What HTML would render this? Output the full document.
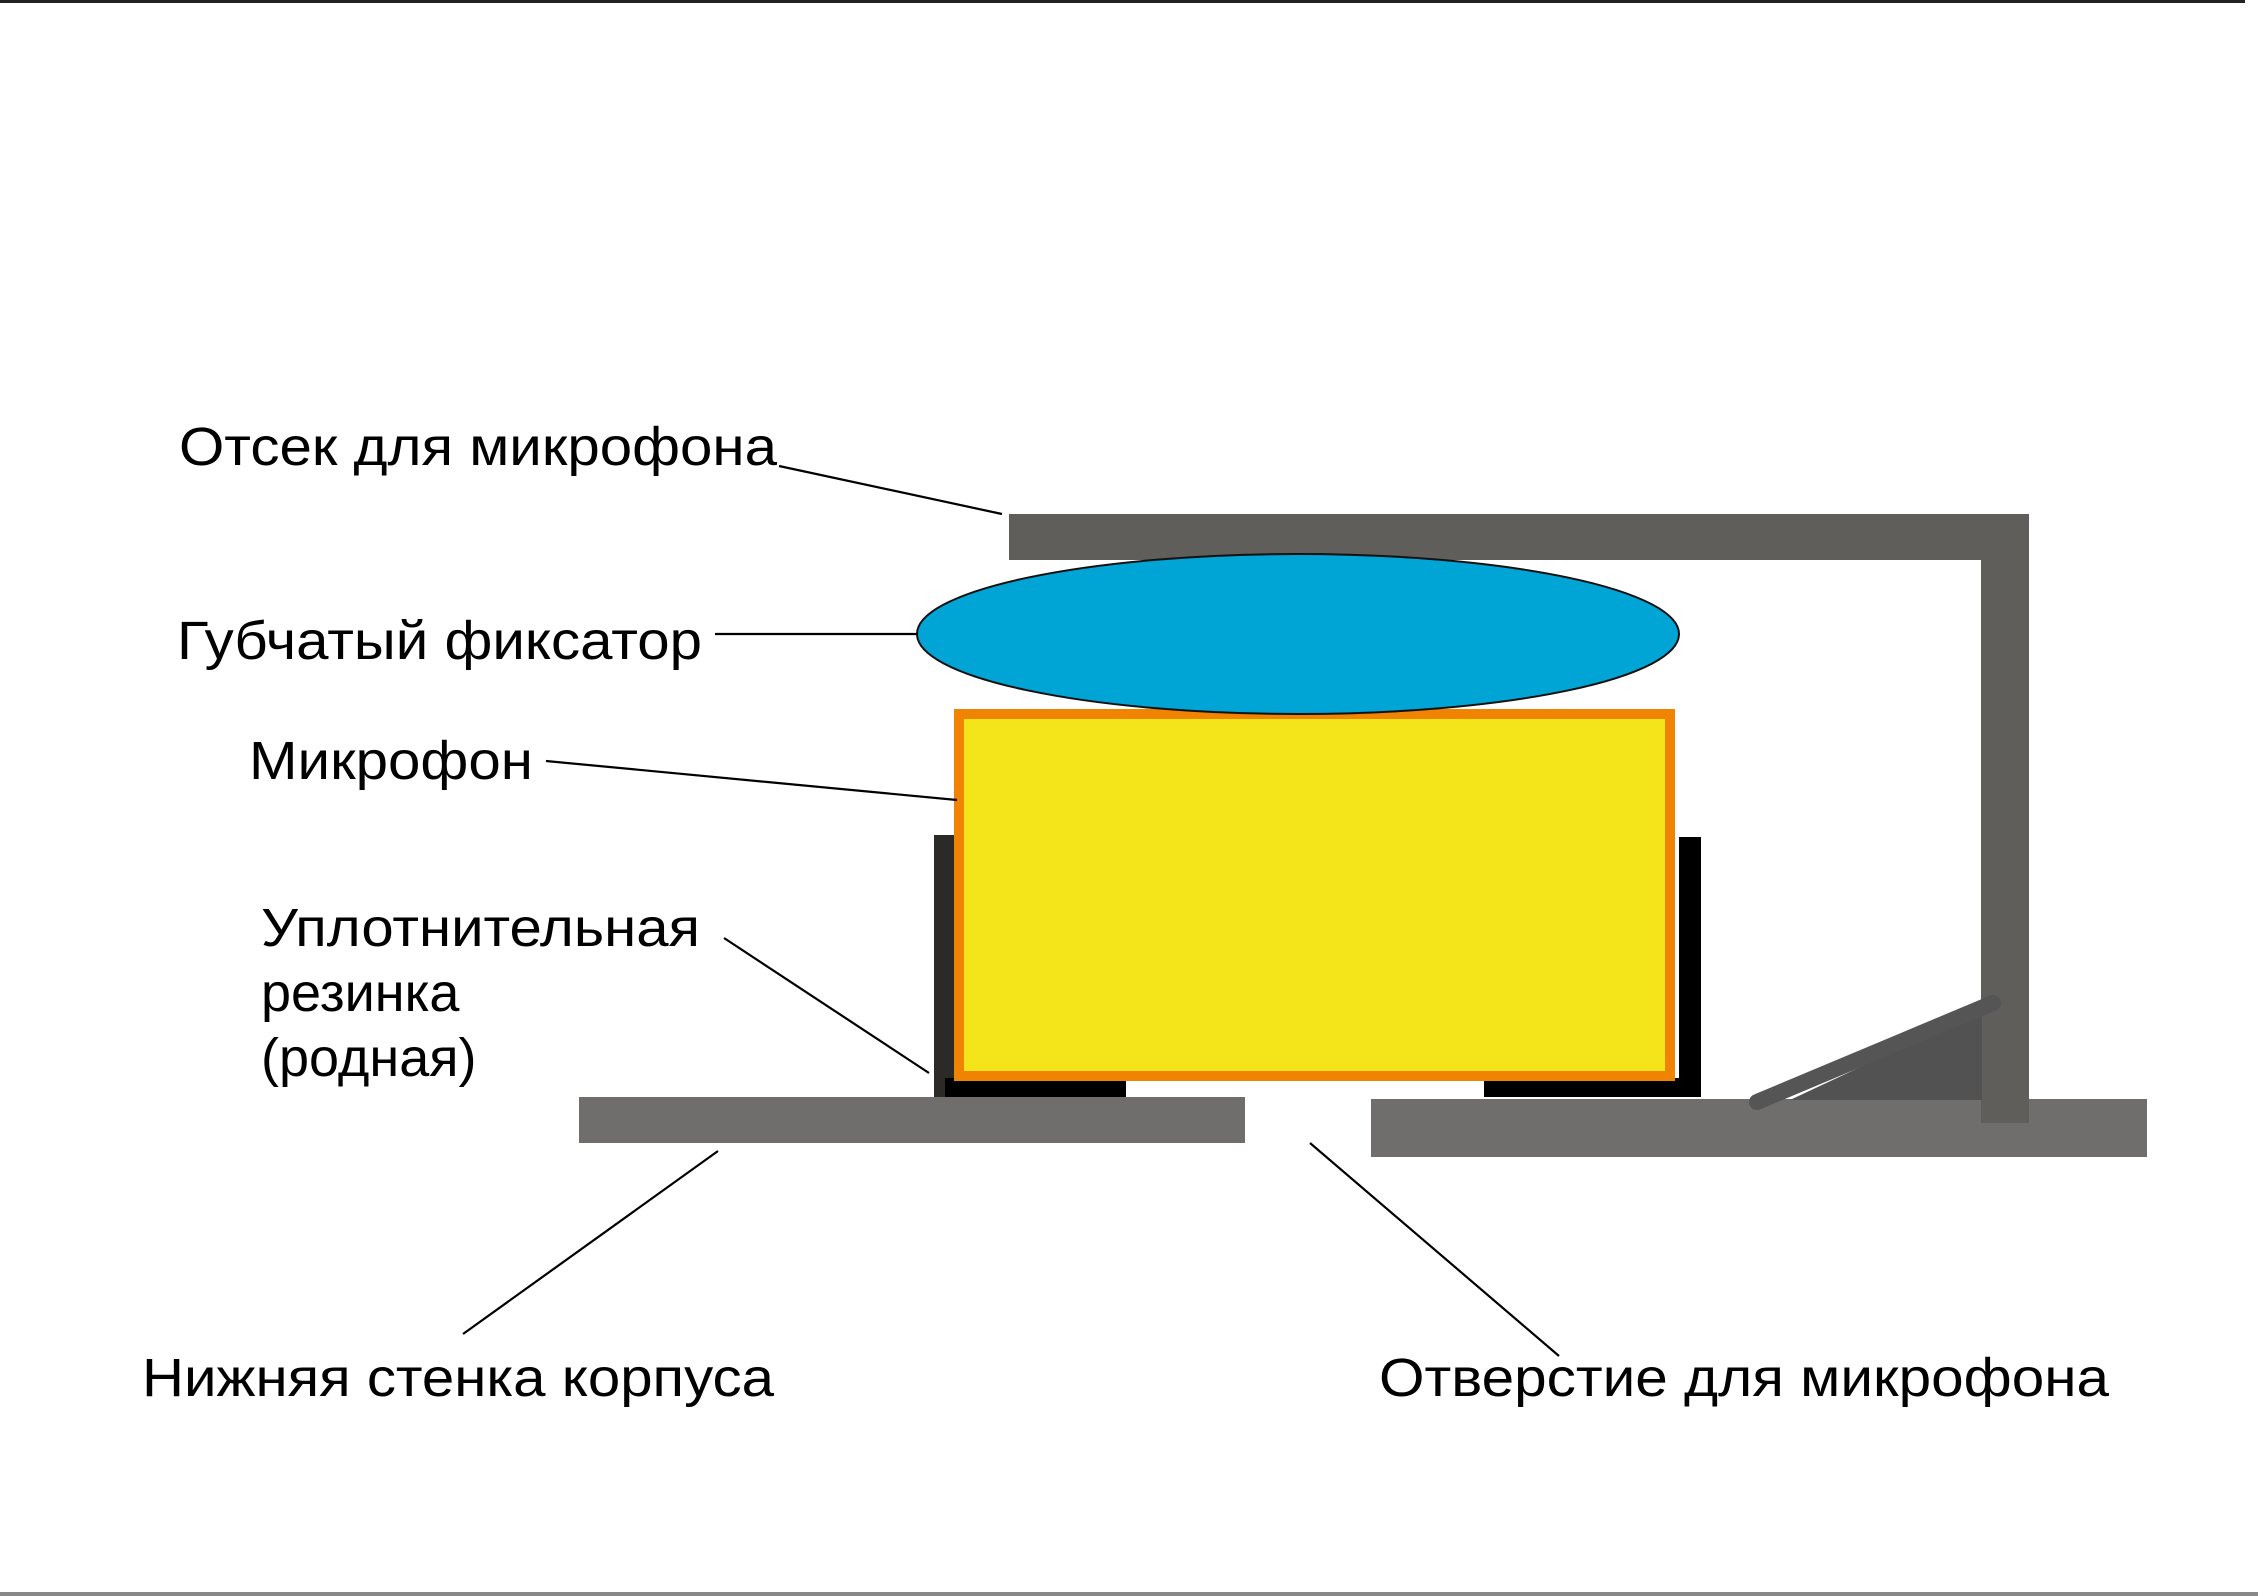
<!DOCTYPE html>
<html><head><meta charset="utf-8"><style>html,body{margin:0;padding:0;background:#fff}svg{display:block}</style></head>
<body>
<svg width="2258" height="1596" viewBox="0 0 2258 1596" xmlns="http://www.w3.org/2000/svg">
<rect x="0" y="0" width="2245" height="3" fill="#222"/>
<rect x="0" y="1592" width="2258" height="4" fill="#888"/>
<!-- compartment -->
<rect x="1009" y="514" width="1020" height="46" fill="#5f5e5a"/>
<rect x="1981" y="514" width="48" height="609" fill="#5f5e5a"/>
<!-- bases -->
<rect x="579" y="1097" width="666" height="46" fill="#6f6e6c"/>
<rect x="1371" y="1099" width="776" height="58" fill="#6f6e6c"/>
<rect x="1981" y="1094" width="48" height="29" fill="#5f5e5a"/>
<!-- scribble -->
<polygon points="1790,1100 1982,1010 1982,1100" fill="#525252"/>
<line x1="1757" y1="1102" x2="1993" y2="1003" stroke="#555" stroke-width="16" stroke-linecap="round"/>
<!-- gaskets -->
<rect x="934" y="835" width="22" height="262" fill="#2b2a27"/>
<rect x="945" y="1078" width="181" height="19" fill="#000"/>
<rect x="1679" y="837" width="22" height="260" fill="#000"/>
<rect x="1484" y="1078" width="217" height="19" fill="#000"/>
<!-- mic -->
<rect x="959" y="714" width="711" height="362" fill="#f3e51a" stroke="#f08300" stroke-width="10"/>
<!-- sponge -->
<ellipse cx="1298" cy="634" rx="381" ry="80" fill="#00a5d5" stroke="#111" stroke-width="2"/>
<!-- leaders -->
<g stroke="#000" stroke-width="2.2">
<line x1="779" y1="466" x2="1002" y2="514"/>
<line x1="715" y1="634" x2="918" y2="634"/>
<line x1="546" y1="761" x2="957" y2="800"/>
<line x1="724" y1="938" x2="929" y2="1073"/>
<line x1="718" y1="1151" x2="463" y2="1334"/>
<line x1="1310" y1="1143" x2="1559" y2="1356"/>
</g>
<g font-family="Liberation Sans, DejaVu Sans, sans-serif" font-size="54" fill="#000">
<text x="179" y="465" textLength="598" lengthAdjust="spacingAndGlyphs">Отсек для микрофона</text>
<text x="177" y="659" textLength="525" lengthAdjust="spacingAndGlyphs">Губчатый фиксатор</text>
<text x="249" y="779" textLength="284" lengthAdjust="spacingAndGlyphs">Микрофон</text>
<text x="261" y="946" textLength="439" lengthAdjust="spacingAndGlyphs">Уплотнительная</text>
<text x="261" y="1011">резинка</text>
<text x="261" y="1076">(родная)</text>
<text x="142" y="1396" textLength="632" lengthAdjust="spacingAndGlyphs">Нижняя стенка корпуса</text>
<text x="1379" y="1396" textLength="730" lengthAdjust="spacingAndGlyphs">Отверстие для микрофона</text>
</g>
</svg>
</body></html>
